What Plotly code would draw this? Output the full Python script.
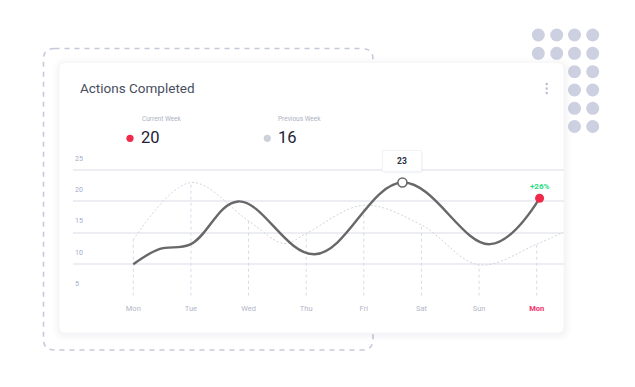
import plotly.graph_objects as go

# page body has an 8px default margin; compensate
OFF = 8
W, H = 635 - OFF, 387 - OFF

# ---------------- data ----------------
day_labels = ["Mon", "Tue", "Wed", "Thu", "Fri", "Sat", "Sun", "Mon"]
day_pos = [0, 1, 2, 3, 4, 5, 6, 7]

# current week curve (day position, value)
cur_x = [0, 0.45, 1.0, 1.82, 3.15, 4.67, 6.19, 7.05]
cur_y = [10.0, 12.4, 13.2, 20.0, 11.6, 23.0, 13.2, 20.5]

# previous week values at each day (tops of the drop lines)
prev_day_vals = [13.9, 23.0, 16.9, 14.9, 19.4, 16.25, 9.9, 13.2]
# previous week dotted curve (includes a dip and the tail to the edge)
prev_x = [0, 1, 2, 2.62, 3, 4, 5, 6, 7, 7.46]
prev_y = [13.9, 23.0, 16.9, 13.3, 14.9, 19.4, 16.25, 9.9, 13.2, 15.1]

y_ticks = [5, 10, 15, 20, 25]

current_total = 20
previous_total = 16
peak_label = "23"
change_label = "+26%"

# ---------------- helpers ----------------
def px(x):
    return (x - OFF) / W

def py(y):
    return 1 - (y - OFF) / H

def rrect(x0, y0, x1, y1, r):
    """rounded rect path in paper coords from pixel coords"""
    pts = [
        f"M {px(x0+r)} {py(y0)}",
        f"L {px(x1-r)} {py(y0)}",
        f"Q {px(x1)} {py(y0)} {px(x1)} {py(y0+r)}",
        f"L {px(x1)} {py(y1-r)}",
        f"Q {px(x1)} {py(y1)} {px(x1-r)} {py(y1)}",
        f"L {px(x0+r)} {py(y1)}",
        f"Q {px(x0)} {py(y1)} {px(x0)} {py(y1-r)}",
        f"L {px(x0)} {py(y0+r)}",
        f"Q {px(x0)} {py(y0)} {px(x0+r)} {py(y0)}",
        "Z",
    ]
    return " ".join(pts)

def circle(cx, cy, r, color):
    return dict(type="circle", xref="paper", yref="paper",
                x0=px(cx - r), x1=px(cx + r), y0=py(cy + r), y1=py(cy - r),
                fillcolor=color, layer="below", line=dict(width=0))

FONT = "Roboto"

fig = go.Figure()

# drop lines from baseline to previous-week values
dx, dy = [], []
for d, v in zip(day_pos, prev_day_vals):
    dx += [d, d, None]
    dy += [5, v, None]
fig.add_trace(go.Scatter(x=dx, y=dy, mode="lines", hoverinfo="skip",
                         line=dict(color="#d5dbe5", width=1, dash="3px,3px")))

# previous week dotted curve
fig.add_trace(go.Scatter(x=prev_x, y=prev_y, mode="lines", hoverinfo="skip",
                         line=dict(color="#cfd3db", width=1, dash="2px,2px",
                                   shape="spline", smoothing=1.0)))

# current week curve
fig.add_trace(go.Scatter(x=cur_x, y=cur_y, mode="lines", hoverinfo="skip",
                         line=dict(color="#686868", width=2.4,
                                   shape="spline", smoothing=1.1)))

# highlighted peak marker
pk = cur_y.index(max(cur_y))
fig.add_trace(go.Scatter(x=[cur_x[pk]], y=[cur_y[pk]], mode="markers",
                         marker=dict(size=9, color="white",
                                     line=dict(color="#6a6a6a", width=1.6))))
# end point marker
fig.add_trace(go.Scatter(x=[cur_x[-1]], y=[cur_y[-1]], mode="markers",
                         marker=dict(size=9, color="#ef2a4a",
                                     line=dict(width=0))))

# ---------------- shapes ----------------
shapes = []
# decorative dots
dot_cols = [538.3, 556.7, 574.5, 592.7]
dot_rows = [35, 53.3, 71.7, 90, 108.3, 126.5]
for cy in dot_rows:
    for cx in dot_cols:
        shapes.append(circle(cx, cy, 6.5, "#cdd0e0"))

# dashed frame
shapes.append(dict(type="path", xref="paper", yref="paper", layer="below",
                   path=rrect(43.5, 48.5, 373, 350, 11),
                   line=dict(color="#c6c9dc", width=1.6, dash="5px,5px")))

# card shadow (very soft)
for i, a in enumerate([0.010, 0.012, 0.014, 0.016]):
    g = 8 - 2 * i
    shapes.append(dict(type="path", xref="paper", yref="paper", layer="below",
                       path=rrect(59.5 - g + 1, 63 - g + 2, 563.5 + g, 332.5 + g + 1, 6 + g),
                       fillcolor=f"rgba(60,70,110,{a})", line=dict(width=0)))
# card
shapes.append(dict(type="path", xref="paper", yref="paper", layer="below",
                   path=rrect(59.5, 63, 563.5, 332.5, 6),
                   fillcolor="white", line=dict(width=0)))

# legend dots
shapes.append(circle(130, 138.3, 3.6, "#ef2a4a"))
shapes.append(circle(267.3, 138.3, 3.6, "#cdd1da"))
# menu dots
for cy in [84, 88.5, 93]:
    shapes.append(circle(546.7, cy, 1.2, "#b9bcc8"))

# tooltip shadow
shapes.append(dict(type="path", xref="paper", yref="paper", layer="above",
                   path=rrect(383, 151, 423, 173.5, 4),
                   fillcolor="rgba(60,70,110,0.05)", line=dict(width=0)))

# ---------------- annotations ----------------
ann = []
ann.append(dict(text="Actions Completed", xref="paper", yref="paper",
                x=px(77.5), y=py(87.5), xanchor="left", yanchor="middle",
                showarrow=False, font=dict(family=FONT, size=13.5, color="#484d5f")))
ann.append(dict(text="Current Week", xref="paper", yref="paper",
                x=px(139.5), y=py(119), xanchor="left", yanchor="middle",
                showarrow=False, font=dict(family=FONT, size=6.5, color="#aeb1c2")))
ann.append(dict(text="Previous Week", xref="paper", yref="paper",
                x=px(276.3), y=py(119), xanchor="left", yanchor="middle",
                showarrow=False, font=dict(family=FONT, size=6.5, color="#aeb1c2")))
ann.append(dict(text=str(current_total), xref="paper", yref="paper",
                x=px(138.5), y=py(137), xanchor="left", yanchor="middle",
                showarrow=False, font=dict(family=FONT, size=16.5, color="#1d2236")))
ann.append(dict(text=str(previous_total), xref="paper", yref="paper",
                x=px(275.5), y=py(137), xanchor="left", yanchor="middle",
                showarrow=False, font=dict(family=FONT, size=16.5, color="#1d2236")))
# y tick labels sitting above their grid lines
for v in y_ticks:
    ann.append(dict(text=str(v), xref="paper", yref="y", x=px(72.5), y=v,
                    yshift=11.5, xanchor="left", yanchor="middle", showarrow=False,
                    font=dict(family=FONT, size=7, color="#9eaccb")))
# tooltip
ann.append(dict(text=f"<b>{peak_label}</b>", xref="x", yref="y",
                x=cur_x[pk], y=cur_y[pk], yshift=21.5, showarrow=False,
                width=34, height=16, borderpad=2,
                bgcolor="white", bordercolor="#f1f2f6", borderwidth=1,
                font=dict(family=FONT, size=8.5, color="#2a2f44")))
# change label
ann.append(dict(text=f"<b>{change_label}</b>", xref="x", yref="y",
                x=cur_x[-1], y=cur_y[-1], yshift=11.5, showarrow=False,
                font=dict(family=FONT, size=8, color="#1fdd80")))

ticktext = [f"<span style='color:#b3b6c8'>{t}</span>" for t in day_labels[:-1]]
ticktext.append(f"<b><span style='color:#f2306b'>{day_labels[-1]}</span></b>")

x_left, x_right = 73, 563.5
d0_px, d7_px = 133.3, 536.7
ppd = (d7_px - d0_px) / 7
xr = [(x_left - d0_px) / ppd, (x_right - d0_px) / ppd]

y_bottom_px, y25_px, y_top_px = 295.7, 170, 140
ppv = (y_bottom_px - y25_px) / 20
yr = [5, 5 + (y_bottom_px - y_top_px) / ppv]

fig.update_layout(
    width=W, height=H, margin=dict(l=0, r=0, t=0, b=0),
    paper_bgcolor="white", plot_bgcolor="rgba(0,0,0,0)",
    showlegend=False, shapes=shapes, annotations=ann,
    xaxis=dict(domain=[px(x_left), px(x_right)], range=xr,
               tickvals=day_pos, ticktext=ticktext, showgrid=False,
               zeroline=False, showline=False, ticks="",
               ticklabelstandoff=7,
               tickfont=dict(family=FONT, size=7.5, color="#b3b6c8")),
    yaxis=dict(domain=[py(y_bottom_px), py(y_top_px)], range=yr,
               tickvals=y_ticks, showgrid=True, gridcolor="#eceef3",
               gridwidth=1.5, zeroline=False, showline=False, ticks="",
               showticklabels=False),
)

fig.write_html("out.html")
